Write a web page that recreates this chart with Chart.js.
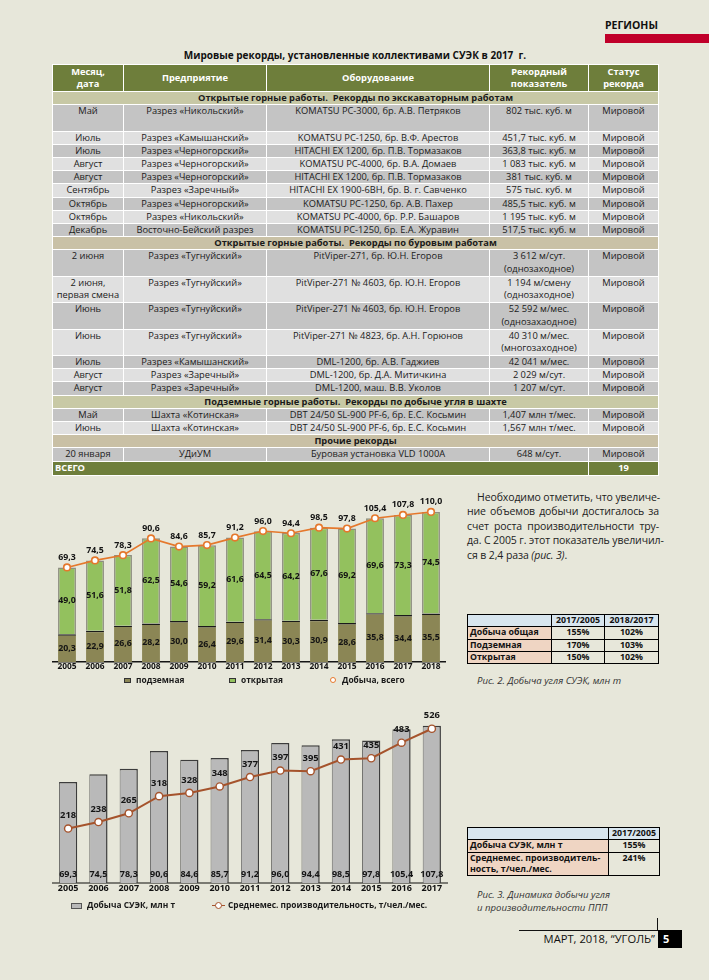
<!DOCTYPE html>
<html lang="ru">
<head>
<meta charset="utf-8">
<title>СУЭК — рекорды и добыча</title>
<script src="https://cdn.jsdelivr.net/npm/chart.js@4.4.1/dist/chart.umd.min.js"></script>
<style>
  body { margin: 0; background: #e7e7da; font-family: "Open Sans", sans-serif; color: #1a1a1a; }
  #page { position: relative; width: 709px; height: 980px; overflow: hidden; }
  .abs { position: absolute; }
  .rubric { left: 605px; top: 18px; font-weight: bold; font-size: 10.5px; color: #111; }
  .redbar { left: 605px; top: 34px; width: 104px; height: 9px; background: #c0002a; }
  .title { left: 52px; top: 48px; width: 606px; text-align: center; font-weight: bold; font-size: 10px; color: #111; }

  #records { left: 52px; top: 64px; width: 606px; border-collapse: separate; border-spacing: 0;
             table-layout: fixed; border-top: 1px solid #fff; border-left: 1px solid #fff; font-size: 9.3px; }
  #records td { box-sizing: border-box; height: 13.2px; line-height: 12.2px; padding: 0 2px;
                border-right: 1px solid #fff; border-bottom: 1px solid #fff; text-align: center;
                vertical-align: top; white-space: nowrap; overflow: hidden; }
  #records tr.head td { height: 27px; line-height: 12px; background: #6e7e3b; color: #fff; font-weight: bold; vertical-align: middle; }
  #records tr.sec td { font-weight: bold; color: #1a1a1a; white-space: pre; }
  #records tr.tall td { height: 26.4px; line-height: 12.6px; }
  #records tr.dark td { background: #c4c4c4; }
  #records tr.light td { background: #e0e0e0; }
  #records tr.total td { background: #6e7e3b; color: #fff; font-weight: bold; height: 14px; }

  .para { left: 467px; width: 192px; font-size: 10.5px; line-height: 14.4px; color: #222; white-space: nowrap;
          text-align: justify; text-align-last: justify; letter-spacing: -0.1px; }
  .para.last { text-align-last: left; }

  table.cmp { border-collapse: collapse; table-layout: fixed; font-size: 8.8px; font-weight: bold; color: #111; }
  table.cmp td { border: 1.3px solid #000; padding: 0 2px; line-height: 11.3px; text-align: center; vertical-align: top; white-space: nowrap; }
  table.cmp tr:first-child td { background: #d8e6ef; }
  table.cmp td.lbl { background: #efd5c3; text-align: left; }

  .cap { left: 477px; font-style: italic; font-size: 9.6px; line-height: 13px; color: #333; }

  .legend { font-size: 8.4px; font-weight: bold; color: #1a1a1a; line-height: 10px; white-space: nowrap; }
  .box { position: absolute; box-sizing: border-box; border: 1px solid #333; }

  .footline { left: 519px; top: 930px; width: 139px; height: 1px; background: #111; }
  .footvert { left: 657px; top: 918px; width: 1px; height: 12px; background: #111; }
  .foottext { left: 520px; top: 930px; width: 135px; text-align: right; font-size: 11.2px; line-height: 18px; color: #111; }
  .pageno { left: 658px; top: 930px; width: 24px; height: 18px; background: #000; color: #fff; font-weight: bold; font-size: 11px; line-height: 18px; padding-left: 5px; box-sizing: border-box; }
</style>
</head>
<body>
<div id="page">
  <div class="abs rubric">РЕГИОНЫ</div>
  <div class="abs redbar"></div>
  <div class="abs title">Мировые рекорды, установленные коллективами СУЭК в 2017&nbsp; г.</div>
  <table id="records" class="abs">
    <colgroup><col style="width:71px"><col style="width:143px"><col style="width:223px"><col style="width:99px"><col style="width:70px"></colgroup>
    <tbody id="recordsBody"></tbody>
  </table>

  <div class="abs para" style="top:490px;text-indent:10px">Необходимо отметить, что увеличе-</div>
  <div class="abs para" style="top:504.4px">ние объемов добычи достигалось за</div>
  <div class="abs para" style="top:518.8px">счет роста производительности тру-</div>
  <div class="abs para" style="top:533.2px">да. С 2005 г. этот показатель увеличил-</div>
  <div class="abs para last" style="top:547.6px">ся в 2,4 раза <i>(рис. 3)</i>.</div>

  <table class="abs cmp" style="left:467px;top:614px;width:191px">
    <colgroup><col style="width:84px"><col style="width:53px"><col style="width:54px"></colgroup>
    <tr><td class="lbl" style="background:#d8e6ef"></td><td>2017/2005</td><td>2018/2017</td></tr>
    <tr><td class="lbl">Добыча общая</td><td>155%</td><td>102%</td></tr>
    <tr><td class="lbl">Подземная</td><td>170%</td><td>103%</td></tr>
    <tr><td class="lbl">Открытая</td><td>150%</td><td>102%</td></tr>
  </table>
  <div class="abs cap" style="top:674px">Рис. 2. Добыча угля СУЭК, млн т</div>

  <table class="abs cmp" style="left:467px;top:827px;width:192px">
    <colgroup><col style="width:141px"><col style="width:51px"></colgroup>
    <tr><td class="lbl" style="background:#d8e6ef"></td><td>2017/2005</td></tr>
    <tr><td class="lbl">Добыча СУЭК, млн т</td><td>155%</td></tr>
    <tr><td class="lbl">Среднемес. производитель-<br>ность, т/чел./мес.</td><td>241%</td></tr>
  </table>
  <div class="abs cap" style="top:888px">Рис. 3. Динамика добычи угля<br>и производительности ППП</div>

  <canvas id="chart1" class="abs" width="440" height="198" style="left:42px;top:478px"></canvas>
  <div class="abs legend" style="left:0;top:675px;width:460px;height:12px">
    <span class="box" style="left:124px;top:3px;width:7px;height:5px;background:#8b8655"></span>
    <span class="abs" style="left:136px;top:0">подземная</span>
    <span class="box" style="left:229px;top:3px;width:7px;height:5px;background:#93c15e"></span>
    <span class="abs" style="left:241px;top:0">открытая</span>
    <span class="box" style="left:330px;top:2px;width:6px;height:6px;border:1.3px solid #e5782c;border-radius:50%;background:#fff"></span>
    <span class="abs" style="left:342px;top:0">Добыча, всего</span>
  </div>

  <canvas id="chart2" class="abs" width="440" height="197" style="left:42px;top:700px"></canvas>
  <div class="abs legend" style="left:0;top:900px;width:460px;height:12px">
    <span class="box" style="left:71px;top:2.5px;width:11px;height:6px;background:#b9b9b9;border-color:#555"></span>
    <span class="abs" style="left:87px;top:0">Добыча СУЭК, млн т</span>
    <span class="abs" style="left:212px;top:4.5px;width:13px;height:1.6px;background:#a5532c"></span>
    <span class="box" style="left:215px;top:2px;width:7px;height:7px;border:1.3px solid #a5532c;border-radius:50%;background:#fff"></span>
    <span class="abs" style="left:228px;top:0">Среднемес. производительность, т/чел./мес.</span>
  </div>

  <div class="abs footvert"></div>
  <div class="abs footline"></div>
  <div class="abs foottext">МАРТ, 2018, “УГОЛЬ”</div>
  <div class="abs pageno">5</div>
</div>

<script>
// Рис. 2 — добыча угля СУЭК, млн т
const years2018 = ['2005', '2006', '2007', '2008', '2009', '2010', '2011', '2012', '2013', '2014', '2015', '2016', '2017', '2018'];
const undergroundMt = [20.3, 22.9, 26.6, 28.2, 30.0, 26.4, 29.6, 31.4, 30.3, 30.9, 28.6, 35.8, 34.4, 35.5];
const openPitMt = [49.0, 51.6, 51.8, 62.5, 54.6, 59.2, 61.6, 64.5, 64.2, 67.6, 69.2, 69.6, 73.3, 74.5];
const totalMt = [69.3, 74.5, 78.3, 90.6, 84.6, 85.7, 91.2, 96.0, 94.4, 98.5, 97.8, 105.4, 107.8, 110.0];

// Рис. 3 — добыча и производительность ППП
const years2017 = ['2005', '2006', '2007', '2008', '2009', '2010', '2011', '2012', '2013', '2014', '2015', '2016', '2017'];
const suekOutputMt = [69.3, 74.5, 78.3, 90.6, 84.6, 85.7, 91.2, 96.0, 94.4, 98.5, 97.8, 105.4, 107.8];
const productivity = [218, 238, 265, 318, 328, 348, 377, 397, 395, 431, 435, 483, 526];

// Таблица рекордов: [месяц, предприятие, оборудование, показатель, статус, двойная строка]
const sections = [
  {
    title: 'Открытые горные работы.  Рекорды по экскаваторным работам', bg: '#c7c8a5',
    rows: [
      ['Май', 'Разрез «Никольский»', 'KOMATSU PC-3000, бр. А.В. Петряков', '802 тыс. куб. м', 'Мировой', true],
      ['Июль', 'Разрез «Камышанский»', 'KOMATSU PC-1250, бр. В.Ф. Арестов', '451,7 тыс. куб. м', 'Мировой'],
      ['Июль', 'Разрез «Черногорский»', 'HITACHI EX 1200, бр. П.В. Тормазаков', '363,8 тыс. куб. м', 'Мировой'],
      ['Август', 'Разрез «Черногорский»', 'KOMATSU PC-4000, бр. В.А. Домаев', '1 083 тыс. куб. м', 'Мировой'],
      ['Август', 'Разрез «Черногорский»', 'HITACHI EX 1200, бр. П.В. Тормазаков', '381 тыс. куб. м', 'Мировой'],
      ['Сентябрь', 'Разрез «Заречный»', 'HITACHI EX 1900-6BH, бр. В. г. Савченко', '575 тыс. куб. м', 'Мировой'],
      ['Октябрь', 'Разрез «Черногорский»', 'KOMATSU PC-1250, бр. А.В. Пахер', '485,5 тыс. куб. м', 'Мировой'],
      ['Октябрь', 'Разрез «Никольский»', 'KOMATSU PC-4000, бр. Р.Р. Башаров', '1 195 тыс. куб. м', 'Мировой'],
      ['Декабрь', 'Восточно-Бейский разрез', 'KOMATSU PC-1250, бр. Е.А. Журавин', '517,5 тыс. куб. м', 'Мировой']
    ]
  },
  {
    title: 'Открытые горные работы.  Рекорды по буровым работам', bg: '#c9c1a6',
    rows: [
      ['2 июня', 'Разрез «Тугнуйский»', 'PitViper-271, бр. Ю.Н. Егоров', '3 612 м/сут.<br>(однозаходное)', 'Мировой', true],
      ['2 июня,<br>первая смена', 'Разрез «Тугнуйский»', 'PitViper-271 № 4603, бр. Ю.Н. Егоров', '1 194 м/смену<br>(однозаходное)', 'Мировой', true],
      ['Июнь', 'Разрез «Тугнуйский»', 'PitViper-271 № 4603, бр. Ю.Н. Егоров', '52 592 м/мес.<br>(однозахаодное)', 'Мировой', true],
      ['Июнь', 'Разрез «Тугнуйский»', 'PitViper-271 № 4823, бр. А.Н. Горюнов', '40 310 м/мес.<br>(многозаходное)', 'Мировой', true],
      ['Июль', 'Разрез «Камышанский»', 'DML-1200, бр. А.В. Гаджиев', '42 041 м/мес.', 'Мировой'],
      ['Август', 'Разрез «Заречный»', 'DML-1200, бр. Д.А. Митичкина', '2 029 м/сут.', 'Мировой'],
      ['Август', 'Разрез «Заречный»', 'DML-1200, маш. В.В. Уколов', '1 207 м/сут.', 'Мировой']
    ]
  },
  {
    title: 'Подземные горные работы.  Рекорды по добыче угля в шахте', bg: '#c8c9a5',
    rows: [
      ['Май', 'Шахта «Котинская»', 'DBT 24/50 SL-900 PF-6, бр. Е.С. Косьмин', '1,407 млн т/мес.', 'Мировой'],
      ['Июнь', 'Шахта «Котинская»', 'DBT 24/50 SL-900 PF-6, бр. Е.С. Косьмин', '1,567 млн т/мес.', 'Мировой']
    ]
  },
  {
    title: 'Прочие рекорды', bg: '#c9c0a5',
    rows: [
      ['20 января', 'УДиУМ', 'Буровая установка VLD 1000А', '648 м/сут.', 'Мировой']
    ]
  }
];
const recordsTotal = '19';

// Build the records table
let html = '<tr class="head"><td>Месяц,<br>дата</td><td>Предприятие</td><td>Оборудование</td><td>Рекордный<br>показатель</td><td>Статус<br>рекорда</td></tr>';
sections.forEach(sec => {
  html += `<tr class="sec"><td colspan="5" style="background:${sec.bg}">${sec.title}</td></tr>`;
  sec.rows.forEach((r, i) => {
    const cls = (i % 2 === 0 ? 'dark' : 'light') + (r[5] ? ' tall' : '');
    html += `<tr class="${cls}">` + r.slice(0, 5).map(c => `<td>${c}</td>`).join('') + '</tr>';
  });
});
html += `<tr class="total"><td colspan="4" style="text-align:left">ВСЕГО</td><td>${recordsTotal}</td></tr>`;
document.getElementById('recordsBody').innerHTML = html;

Chart.defaults.font.family = '"Open Sans", sans-serif';
Chart.defaults.color = '#111';

const fmt = (v, digits) => v.toFixed(digits).replace('.', ',');

// Simple label drawer, positions come from the chart elements
const valueLabels = {
  id: 'valueLabels',
  afterDatasetsDraw(chart, args, opts) {
    const ctx = chart.ctx;
    ctx.save();
    ctx.textAlign = 'center';
    ctx.textBaseline = 'middle';
    ctx.fillStyle = '#141414';
    chart.data.datasets.forEach((ds, i) => {
      const cfg = opts.sets[i];
      if (!cfg) return;
      ctx.font = cfg.font;
      chart.getDatasetMeta(i).data.forEach((el, j) => {
        let y;
        if (cfg.at === 'middle') y = (el.y + el.base) / 2;
        else if (cfg.at === 'bottom') y = el.base - cfg.offset;
        else y = el.y - cfg.offset;
        ctx.fillText(fmt(ds.data[j], cfg.digits), el.x, y);
      });
    });
    ctx.restore();
  }
};

const xAxis = (size) => ({
  stacked: true,
  grid: { display: false, drawTicks: false },
  border: { display: true, color: '#151515', width: 1.6 },
  ticks: { font: { size: size, weight: 'bold' }, color: '#111', padding: 0, maxRotation: 0, autoSkip: false },
  afterFit: axis => { axis.height = 14; }
});

new Chart(document.getElementById('chart1'), {
  type: 'bar',
  data: {
    labels: years2018,
    datasets: [
      {
        type: 'line', label: 'Добыча, всего', data: totalMt, stack: 'total', order: 0,
        borderColor: '#e5782c', borderWidth: 1.6, tension: 0, clip: false,
        pointRadius: 3.3, pointBackgroundColor: '#fff', pointBorderColor: '#e5782c', pointBorderWidth: 1.6
      },
      {
        label: 'подземная', data: undergroundMt, order: 1,
        backgroundColor: '#8b8655', borderColor: '#1a1a1a',
        borderWidth: { top: 1.4, left: 0, right: 0, bottom: 0 }, borderSkipped: false,
        categoryPercentage: 1, barPercentage: 0.64
      },
      {
        label: 'открытая', data: openPitMt, order: 1,
        backgroundColor: '#93c15e', borderColor: '#8e8e80',
        borderWidth: { top: 1.5, left: 1.5, right: 1.5, bottom: 0 }, borderSkipped: false,
        categoryPercentage: 1, barPercentage: 0.64
      }
    ]
  },
  options: {
    responsive: false,
    animation: false,
    devicePixelRatio: 1,
    layout: { padding: { left: 11, right: 37, top: 13.5, bottom: 0 } },
    plugins: {
      legend: { display: false },
      tooltip: { enabled: false },
      valueLabels: {
        sets: [
          { at: 'top', offset: 10, digits: 1, font: 'bold 8.8px "Open Sans"' },
          { at: 'middle', digits: 1, font: 'bold 8.8px "Open Sans"' },
          { at: 'middle', digits: 1, font: 'bold 8.8px "Open Sans"' }
        ]
      }
    },
    scales: {
      x: xAxis(8.4),
      y: { display: false, stacked: true, min: 0, max: 125 }
    }
  },
  plugins: [valueLabels]
});

new Chart(document.getElementById('chart2'), {
  type: 'bar',
  data: {
    labels: years2017,
    datasets: [
      {
        type: 'line', label: 'Среднемес. производительность, т/чел./мес.', data: productivity,
        yAxisID: 'y2', order: 0, clip: false,
        borderColor: '#a5532c', borderWidth: 2, tension: 0,
        pointRadius: 3.6, pointBackgroundColor: '#fff', pointBorderColor: '#a5532c', pointBorderWidth: 1.4
      },
      {
        label: 'Добыча СУЭК, млн т', data: suekOutputMt, yAxisID: 'y', order: 1,
        backgroundColor: '#b9b9b9', borderColor: '#3c3c3c',
        borderWidth: { top: 1.5, left: 0.8, right: 1.5, bottom: 0 }, borderSkipped: false,
        categoryPercentage: 1, barPercentage: 0.6
      }
    ]
  },
  options: {
    responsive: false,
    animation: false,
    devicePixelRatio: 1,
    layout: { padding: { left: 11, right: 35, top: 8, bottom: 0 } },
    plugins: {
      legend: { display: false },
      tooltip: { enabled: false },
      valueLabels: {
        sets: [
          { at: 'top', offset: 13, digits: 0, font: 'bold 9.4px "Open Sans"' },
          { at: 'bottom', offset: 9, digits: 1, font: 'bold 9px "Open Sans"' }
        ]
      }
    },
    scales: {
      x: Object.assign(xAxis(9), { border: { display: true, color: '#7a7a72', width: 2 } }),
      y: { display: false, min: 0, max: 120 },
      y2: { display: false, position: 'right', min: 50, max: 590 }
    }
  },
  plugins: [valueLabels]
});
</script>
</body>
</html>
